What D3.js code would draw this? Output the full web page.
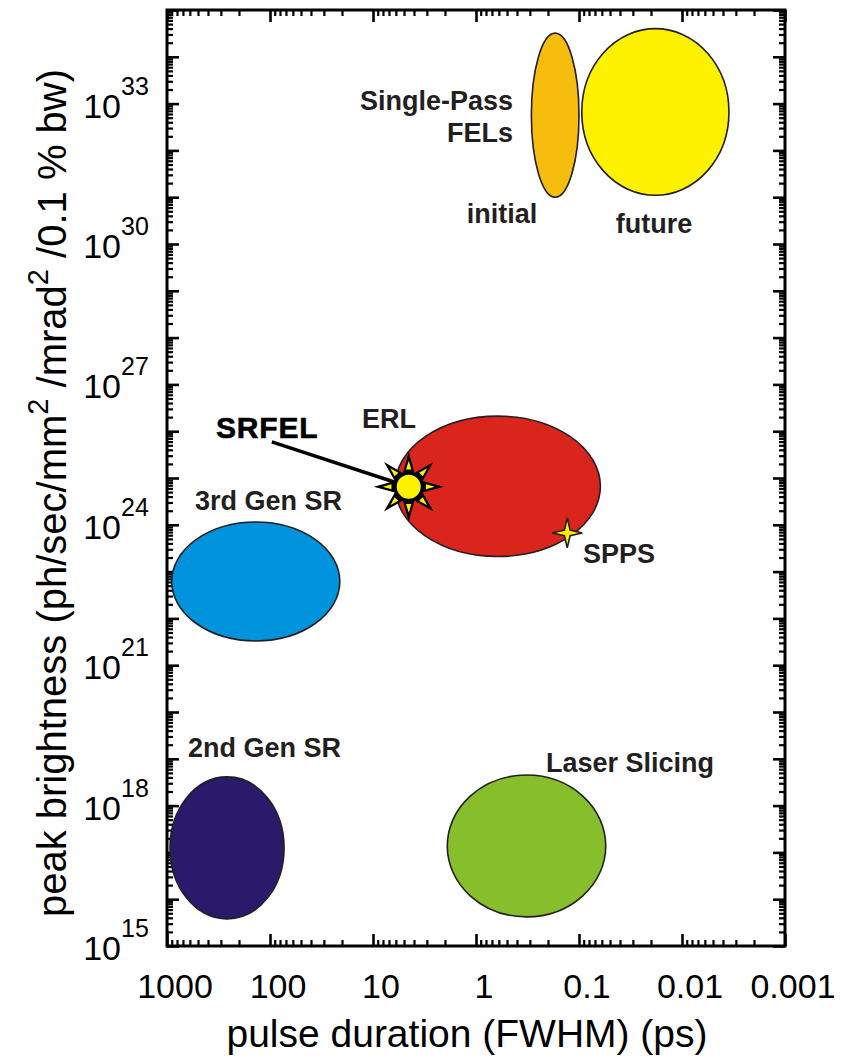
<!DOCTYPE html>
<html>
<head>
<meta charset="utf-8">
<script src="https://cdn.jsdelivr.net/npm/d3@7"></script>
<style>
  html, body { margin: 0; padding: 0; background: #fff; }
  svg { display: block; font-family: "Liberation Sans", Arial, Helvetica, sans-serif; }
</style>
</head>
<body>
<svg id="chart" width="848" height="1057"></svg>
<script>
// Light sources: pulse-duration range (ps) and peak-brightness range
const sources     = ["FEL initial", "FEL future", "ERL", "3rd Gen SR", "2nd Gen SR", "Laser Slicing"];
const pulseLo     = [0.1,    0.0035, 0.062, 21,     73,     0.055];
const pulseHi     = [0.29,   0.094,  6.1,   900,    935,    1.9];
const brightLo    = [1.0e31, 1.1e31, 2.1e23, 3.3e21, 3.8e15, 4.2e15];
const brightHi    = [3.2e34, 4.0e34, 2.1e26, 1.15e24, 4.1e18, 4.5e18];

// Single machines
const srfel = { pulse: 4.5, bright: 6.5e24 };
const spps  = { pulse: 0.13, bright: 6.7e23 };
const leaderFrom = { pulse: 96, bright: 5.9e25 };

// Annotations (anchor point in data units)
const annText   = ["Single-Pass", "FELs", "initial", "future", "ERL", "SRFEL", "3rd Gen SR", "SPPS", "2nd Gen SR", "Laser Slicing"];
const annPulse  = [0.437, 0.437, 0.56, 0.0187, 12.8, 334, 535, 0.0915, 625, 0.209];
const annBright = [7.2e32, 1.5e32, 2.8e30, 1.7e30, 1.17e26, 7.1e25, 2.07e24, 1.5e23, 1.1e19, 5.2e18];

// Axis ticks
const xMajor = [1000, 100, 10, 1, 0.1, 0.01, 0.001];
const xLabels = ["1000", "100", "10", "1", "0.1", "0.01", "0.001"];
const yMajorExp = d3.range(15, 36);
const yLabelExp = [15, 18, 21, 24, 27, 30, 33];

// ---- styling ----
const fillColor = d3.scaleOrdinal()
  .domain(sources)
  .range(["#F6BD0E", "#FFF200", "#DA251D", "#0093DD", "#2A1A6C", "#86BF2B"]);
const textAnchor = { "Single-Pass": "end", "FELs": "end", "initial": "middle", "future": "middle" };
const ink = "#231F20";

const svg = d3.select("#chart");
const x = d3.scaleLog().domain([1000, 0.001]).range([167, 785]);
const y = d3.scaleLog().domain([1e15, 1e35]).range([946, 10]);
const [x0, x1] = x.range();
const [y0, y1] = y.range();

const xMinor = [];
xMajor.slice(1).forEach(d => { for (let k = 2; k <= 9; k++) xMinor.push(k * d); });
const yMajor = yMajorExp.map(e => Math.pow(10, e));
const yMinor = [];
yMajorExp.slice(0, -1).forEach(e => { for (let k = 2; k <= 9; k++) yMinor.push(k * Math.pow(10, e)); });

// ---- regions as ellipses in log space ----
const regions = sources.map((s, i) => {
  const xa = x(pulseLo[i]), xb = x(pulseHi[i]);
  const ya = y(brightLo[i]), yb = y(brightHi[i]);
  return { name: s, cx: (xa + xb) / 2, cy: (ya + yb) / 2, rx: Math.abs(xa - xb) / 2, ry: Math.abs(ya - yb) / 2 };
});

// ---- frame ticks (all four sides, pointing inward) ----
function tickAxis(axisFn, scale, values, size, width, transform) {
  const g = svg.append("g").attr("transform", transform)
    .call(axisFn(scale).tickValues(values).tickSizeInner(-size).tickSizeOuter(0).tickFormat(""));
  g.select(".domain").remove();
  g.selectAll("line").attr("stroke", "#000").attr("stroke-width", width);
}
tickAxis(d3.axisBottom, x, xMajor, 12, 2.6, `translate(0,${y0})`);
tickAxis(d3.axisBottom, x, xMinor, 6, 2.2, `translate(0,${y0})`);
tickAxis(d3.axisTop, x, xMajor, 12, 2.6, `translate(0,${y1})`);
tickAxis(d3.axisTop, x, xMinor, 6, 2.2, `translate(0,${y1})`);
tickAxis(d3.axisLeft, y, yMajor, 12, 2.6, `translate(${x0},0)`);
tickAxis(d3.axisLeft, y, yMinor, 6, 2.2, `translate(${x0},0)`);
tickAxis(d3.axisRight, y, yMajor, 12, 2.6, `translate(${x1},0)`);
tickAxis(d3.axisRight, y, yMinor, 6, 2.2, `translate(${x1},0)`);

svg.append("g").selectAll("ellipse")
  .data(regions)
  .join("ellipse")
  .attr("cx", d => d.cx).attr("cy", d => d.cy)
  .attr("rx", d => d.rx).attr("ry", d => d.ry)
  .attr("fill", d => fillColor(d.name))
  .attr("stroke", ink)
  .attr("stroke-width", 1.6);

// ---- SPPS four-point star ----
function starPath(cx, cy, n, rOut, rIn, rot) {
  const pts = [];
  for (let i = 0; i < 2 * n; i++) {
    const a = rot + i * Math.PI / n;
    const r = i % 2 === 0 ? rOut : rIn;
    pts.push([cx + r * Math.sin(a), cy - r * Math.cos(a)]);
  }
  return "M" + pts.map(p => p.join(",")).join("L") + "Z";
}
svg.append("path")
  .attr("d", starPath(x(spps.pulse), y(spps.bright), 4, 15, 4, 0))
  .attr("fill", "#FFF200").attr("stroke", ink).attr("stroke-width", 1.6)
  .attr("stroke-linejoin", "miter");

// ---- SRFEL leader line and sun symbol ----
const sx = x(srfel.pulse), sy = y(srfel.bright);
svg.append("line")
  .attr("x1", x(leaderFrom.pulse)).attr("y1", y(leaderFrom.bright))
  .attr("x2", sx).attr("y2", sy)
  .attr("stroke", "#000").attr("stroke-width", 3.5);

svg.append("path")
  .attr("d", starPath(sx, sy, 8, 35, 15, 0))
  .attr("fill", "#000");
for (let i = 0; i < 8; i++) {
  const a = i * Math.PI / 4;
  const tri = [[26, 0], [17.5, 0.15], [17.5, -0.15]].map(([r, da]) =>
    [sx + r * Math.sin(a + da), sy - r * Math.cos(a + da)]);
  svg.append("path")
    .attr("d", "M" + tri.map(p => p.join(",")).join("L") + "Z")
    .attr("fill", "#FFF200");
}
svg.append("circle")
  .attr("cx", sx).attr("cy", sy).attr("r", 13)
  .attr("fill", "#FFF200").attr("stroke", "#000").attr("stroke-width", 2);

// ---- annotations ----
svg.append("g").selectAll("text")
  .data(annText.map((t, i) => ({ t, p: annPulse[i], b: annBright[i] })))
  .join("text")
  .attr("x", d => x(d.p)).attr("y", d => y(d.b))
  .attr("text-anchor", d => textAnchor[d.t] || "start")
  .attr("font-weight", "bold")
  .attr("font-size", d => d.t === "SRFEL" ? 30 : 27)
  .attr("letter-spacing", d => d.t === "SRFEL" ? 0.8 : 0)
  .attr("fill", d => d.t === "SRFEL" ? "#000" : ink)
  .attr("stroke", d => d.t === "SRFEL" ? "#000" : "none")
  .attr("stroke-width", 0.6)
  .text(d => d.t);

svg.append("rect")
  .attr("x", x0).attr("y", y1).attr("width", x1 - x0).attr("height", y0 - y1)
  .attr("fill", "none").attr("stroke", "#000").attr("stroke-width", 3);

// ---- tick labels ----
svg.append("g").selectAll("text")
  .data(xMajor.map((v, i) => ({ v, s: xLabels[i] })))
  .join("text")
  .attr("x", d => x(d.v) + 8).attr("y", 998)
  .attr("text-anchor", "middle").attr("font-size", 34).attr("fill", "#000")
  .text(d => d.s);

const yl = svg.append("g").selectAll("g")
  .data(yLabelExp)
  .join("g")
  .attr("transform", e => `translate(0,${y(Math.pow(10, e))})`);
yl.append("text")
  .attr("x", 121).attr("y", 14).attr("text-anchor", "end")
  .attr("font-size", 34).attr("fill", "#000").text("10");
yl.append("text")
  .attr("x", 121).attr("y", -9).attr("text-anchor", "start")
  .attr("font-size", 25).attr("fill", "#000").text(e => e);

// ---- axis titles ----
svg.append("text")
  .attr("x", 467).attr("y", 1047).attr("text-anchor", "middle")
  .attr("font-size", 39).attr("fill", "#000")
  .text("pulse duration (FWHM) (ps)");

const yt = svg.append("text")
  .attr("transform", "translate(66,493) rotate(-90)")
  .attr("text-anchor", "middle").attr("font-size", 40).attr("fill", "#000");
yt.append("tspan").text("peak brightness (ph/sec/mm");
yt.append("tspan").attr("dy", -18).attr("font-size", 29).text("2");
yt.append("tspan").attr("dy", 18).text(" /mrad");
yt.append("tspan").attr("dy", -18).attr("font-size", 29).text("2");
yt.append("tspan").attr("dy", 18).text(" /0.1 % bw)");
</script>
</body>
</html>
